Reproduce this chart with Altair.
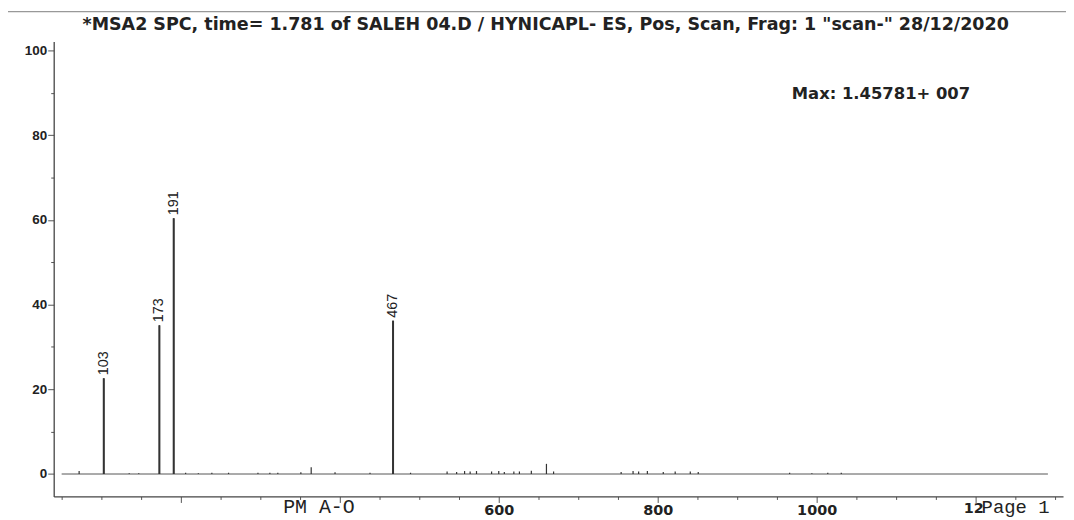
import altair as alt
import pandas as pd

# ---- data ----
title_text = '*MSA2 SPC, time= 1.781 of SALEH 04.D / HYNICAPL- ES, Pos, Scan, Frag: 1  "scan-" 28/12/2020'
max_text = "Max: 1.45781+ 007"

peak_mz = [72, 103, 135, 147, 173, 191, 206, 222, 239, 260, 297, 312, 322, 351, 364,
           394, 438, 467, 489, 535, 547, 557, 564, 572, 591, 600, 607, 619, 626, 641,
           660, 669, 754, 769, 776, 787, 807, 822, 841, 851, 966, 994, 1014, 1031]
peak_int = [0.7, 22.6, 0.2, 0.2, 35.1, 60.4, 0.3, 0.2, 0.3, 0.3, 0.3, 0.3, 0.3, 0.4, 1.6,
            0.4, 0.3, 36.2, 0.3, 0.6, 0.5, 0.7, 0.6, 0.7, 0.6, 0.7, 0.5, 0.6, 0.6, 0.8,
            2.4, 0.6, 0.5, 0.7, 0.6, 0.7, 0.5, 0.6, 0.6, 0.5, 0.3, 0.2, 0.3, 0.3]

label_mz = [103, 173, 191, 467]
label_int = [22.6, 35.1, 60.4, 36.2]

baseline_start = [50]
baseline_end = [1291]

x_ticks = list(range(50, 1301, 50))
y_ticks = list(range(0, 101, 5))

peaks = pd.DataFrame({"mz": peak_mz, "inten": peak_int, "zero": [0] * len(peak_mz)})
labels = pd.DataFrame({"mz": label_mz, "inten": label_int, "txt": [str(m) for m in label_mz]})
base = pd.DataFrame({"start": baseline_start, "end": baseline_end, "zero": [0]})

xscale = alt.Scale(domain=[40, 1310], nice=False, zero=False)
yscale = alt.Scale(domain=[-5.3, 102.1], nice=False, zero=False)

x_axis = alt.Axis(
    values=x_ticks, format="d", title=None, grid=False,
    labelExpr="(datum.value >= 600 && datum.value <= 1000 && datum.value % 200 == 0) ? datum.label : ''",
    tickSize={"condition": {"test": "datum.value % 200 == 0", "value": 6}, "value": 3},
    labelFont="DejaVu Sans", labelFontWeight="bold", labelFontSize=14.5, labelColor="#222",
    labelPadding=1, tickColor="#555", domainColor="#444", domainWidth=1.3, labelFlush=False,
)
y_axis = alt.Axis(
    values=y_ticks, title=None, grid=False,
    labelExpr="datum.value % 20 == 0 ? datum.label : ''",
    tickSize={"condition": {"test": "datum.value % 20 == 0", "value": 6}, "value": 3},
    labelFont="Liberation Sans", labelFontWeight="bold", labelFontSize=13.5, labelColor="#222",
    labelPadding=1, tickColor="#555", domainColor="#444", domainWidth=1.3,
)

baseline = alt.Chart(base).mark_rule(color="#555", strokeWidth=1).encode(
    x=alt.X("start:Q", scale=xscale, axis=x_axis),
    x2="end:Q",
    y=alt.Y("zero:Q", scale=yscale, axis=y_axis),
)

sticks = alt.Chart(peaks).mark_rule(color="#333", strokeWidth=1.2).encode(
    x=alt.X("mz:Q", scale=xscale),
    y=alt.Y("zero:Q", scale=yscale),
    y2="inten:Q",
)

big = alt.Chart(labels).mark_rule(color="#333", strokeWidth=2).encode(
    x=alt.X("mz:Q", scale=xscale),
    y=alt.Y("inten:Q", scale=yscale),
    y2=alt.datum(0),
)

peak_text = alt.Chart(labels).mark_text(
    angle=270, align="left", baseline="middle", dx=3,
    font="Liberation Sans", fontSize=14.5, color="#222",
).encode(
    x=alt.X("mz:Q", scale=xscale),
    y=alt.Y("inten:Q", scale=yscale),
    text="txt:N",
)

title = alt.Chart(pd.DataFrame({"t": [title_text]})).mark_text(
    align="left", baseline="alphabetic", font="DejaVu Sans", fontWeight="bold",
    fontSize=17.6, color="#222",
).encode(x=alt.value(29), y=alt.value(-12), text="t:N")

maxlab = alt.Chart(pd.DataFrame({"t": [max_text]})).mark_text(
    align="left", baseline="middle", font="DejaVu Sans", fontWeight="bold",
    fontSize=16.5, color="#222",
).encode(x=alt.value(743), y=alt.value(53), text="t:N")

pm = alt.Chart(pd.DataFrame({"t": ["PM A-O"]})).mark_text(
    align="left", baseline="middle", font="Liberation Mono", fontSize=20, color="#222",
).encode(x=alt.value(231), y=alt.value(469), text="t:N")

twelve = alt.Chart(pd.DataFrame({"t": ["12"]})).mark_text(
    align="left", baseline="middle", font="DejaVu Sans", fontWeight="bold",
    fontSize=14.5, color="#222",
).encode(x=alt.value(916), y=alt.value(471), text="t:N")

page = alt.Chart(pd.DataFrame({"t": ["Page 1"]})).mark_text(
    align="left", baseline="middle", font="Liberation Mono", fontSize=19, color="#222",
).encode(x=alt.value(934), y=alt.value(469), text="t:N")

scanline = alt.Chart(pd.DataFrame({"a": [0]})).mark_rule(color="#999", strokeWidth=1.2).encode(
    x=alt.value(-54), x2=alt.value(1020), y=alt.value(-30)
)

chart = alt.layer(scanline, baseline, sticks, big, peak_text, title, maxlab, pm, twelve, page).properties(
    width=1016, height=458,
    padding={"left": 46, "top": 32, "right": 3, "bottom": 24},
    autosize=alt.AutoSizeParams(type="none"),
    background="white",
).configure_view(stroke=None)

chart.save("out.html", embed_options={"renderer": "svg", "actions": False})
